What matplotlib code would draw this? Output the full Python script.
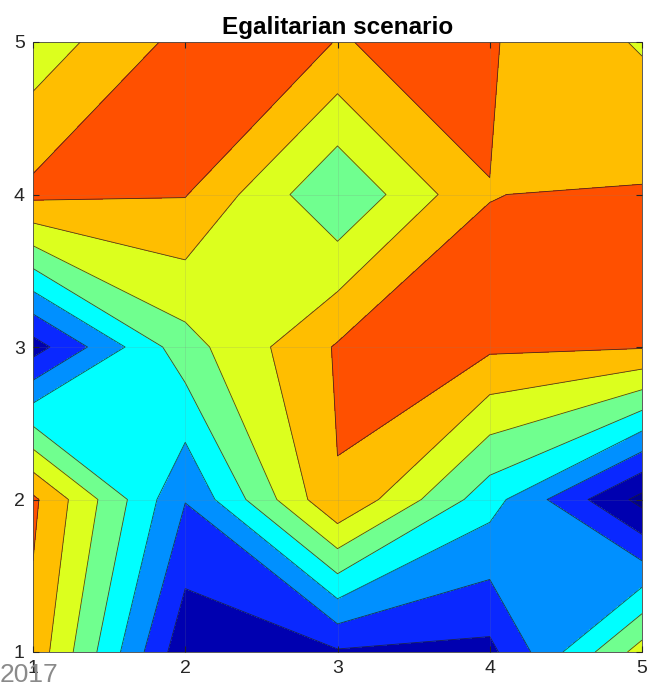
import numpy as np
import matplotlib.pyplot as plt

plt.rcParams['font.family'] = ['Liberation Sans', 'DejaVu Sans']

x = [1, 2, 3, 4, 5]
y = [1, 2, 3, 4, 5]

# rows are y = 1..5, columns x = 1..5
z_y1 = [7.70, 1.26, 1.88, 1.73, 6.45]
z_y2 = [8.20, 3.04, 7.96, 4.40, 0.68]
z_y3 = [1.55, 5.60, 8.10, 8.18, 8.07]
z_y4 = [8.25, 8.05, 5.07, 7.99, 8.08]
z_y5 = [6.40, 8.33, 7.99, 8.08, 6.89]

levels = [-1, 1, 2, 3, 4, 5, 6, 7, 8, 10]
band_colors = ['#00008F', '#0000B0', '#0A28FF', '#0090FF', '#00FFFF',
               '#70FF8F', '#DCFF1E', '#FFBE00', '#FF5000']

Z = np.array([z_y1, z_y2, z_y3, z_y4, z_y5])
X, Y = np.meshgrid(x, y)

fig = plt.figure(figsize=(6.51, 6.87), dpi=100)
ax = fig.add_axes([33/651, 35/687, 609/651, 610/687])

ax.contourf(X, Y, Z, levels=levels, colors=band_colors)
ax.contour(X, Y, Z, levels=levels[1:-1], colors='#202020', linewidths=0.6, alpha=0.8)

ax.set_xlim(1, 5)
ax.set_ylim(1, 5)
ax.set_xticks(x)
ax.set_yticks(y)
ax.grid(True, color='#808080', alpha=0.2, linewidth=0.6)
ax.set_axisbelow(False)
ax.tick_params(direction='in', length=4, top=True, right=True,
               labelsize=14, colors='#262626', pad=6)
for s in ax.spines.values():
    s.set_color('#404040')
    s.set_linewidth(0.6)

ax.set_title('Egalitarian scenario', fontsize=17.5, fontweight='bold', pad=6)

fig.text(0.0, 0.0, '2017', fontsize=19, color='#8A8A8A', ha='left', va='bottom')

fig.savefig('out.png', dpi=100)
